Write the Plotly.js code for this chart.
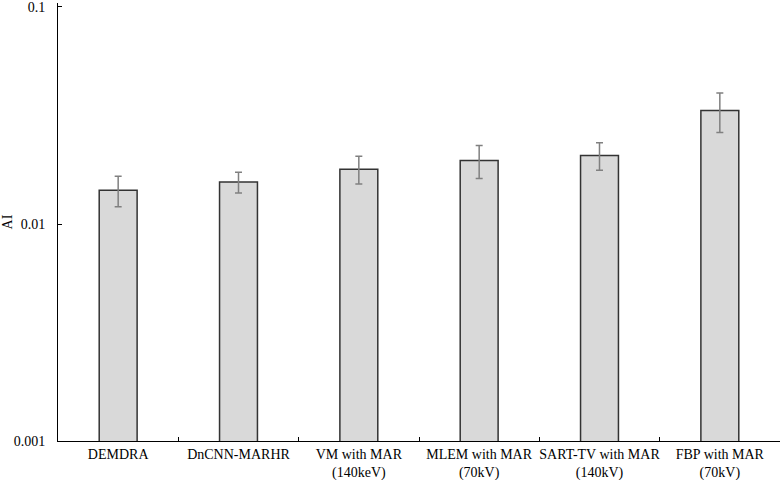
<!DOCTYPE html>
<html>
<head>
<meta charset="utf-8">
<script src="https://cdn.plot.ly/plotly-3.0.1.min.js"></script>
<style>
  body { margin: 0; }
  #plot { width: 781px; height: 480px; }
</style>
</head>
<body>
<div id="plot"></div>
<script>
// Методи
const methods = [
    'DEMDRA',
    'DnCNN-MARHR',
    'VM with MAR<br>(140keV)',
    'MLEM with MAR<br>(70kV)',
    'SART-TV with MAR<br>(140kV)',
    'FBP with MAR<br>(70kV)'
];

// Значення AI
const aiValues = [0.0143, 0.0156, 0.0179, 0.0196, 0.0207, 0.0333];

// Похибки
const aiErrors = [0.0023, 0.0017, 0.0026, 0.0034, 0.0030, 0.0069];

// Поділки осі y
const yTicks = [0.001, 0.01, 0.1];
const yTickText = ['0.001', '0.01', '0.1'];

const trace = {
    x: methods,
    y: aiValues,
    type: 'bar',
    width: 0.315,
    marker: {
        color: '#d9d9d9',
        line: { color: '#333333', width: 1.5 }
    },
    error_y: {
        type: 'data',
        array: aiErrors,
        visible: true,
        color: '#808080',
        thickness: 1.5,
        width: 3.5
    }
};

const layout = {
    width: 781,
    height: 480,
    margin: { l: 58, r: 1, t: 3, b: 39 },
    paper_bgcolor: 'white',
    plot_bgcolor: 'white',
    font: { family: 'Liberation Serif, Times New Roman, serif', size: 14, color: '#000' },
    showlegend: false,
    xaxis: {
        type: 'category',
        automargin: false,
        tickangle: 0,
        showline: true,
        linecolor: '#000',
        linewidth: 1,
        ticks: 'inside',
        ticklen: 4,
        tickcolor: '#000',
        tickson: 'boundaries',
        showgrid: false,
        zeroline: false,
        tickfont: { size: 14 }
    },
    yaxis: {
        type: 'log',
        automargin: false,
        range: [-3, -0.9816],
        tickvals: yTicks,
        ticktext: yTickText,
        ticklabeloverflow: 'allow',
        showline: true,
        linecolor: '#000',
        linewidth: 1,
        ticks: 'inside',
        ticklen: 4,
        tickcolor: '#000',
        showgrid: false,
        zeroline: false,
        ticklabelstandoff: 9,
        tickfont: { size: 14 },
        title: { text: 'AI', font: { size: 14 }, standoff: 16 }
    }
};

Plotly.newPlot('plot', [trace], layout, { displayModeBar: false });
</script>
</body>
</html>
